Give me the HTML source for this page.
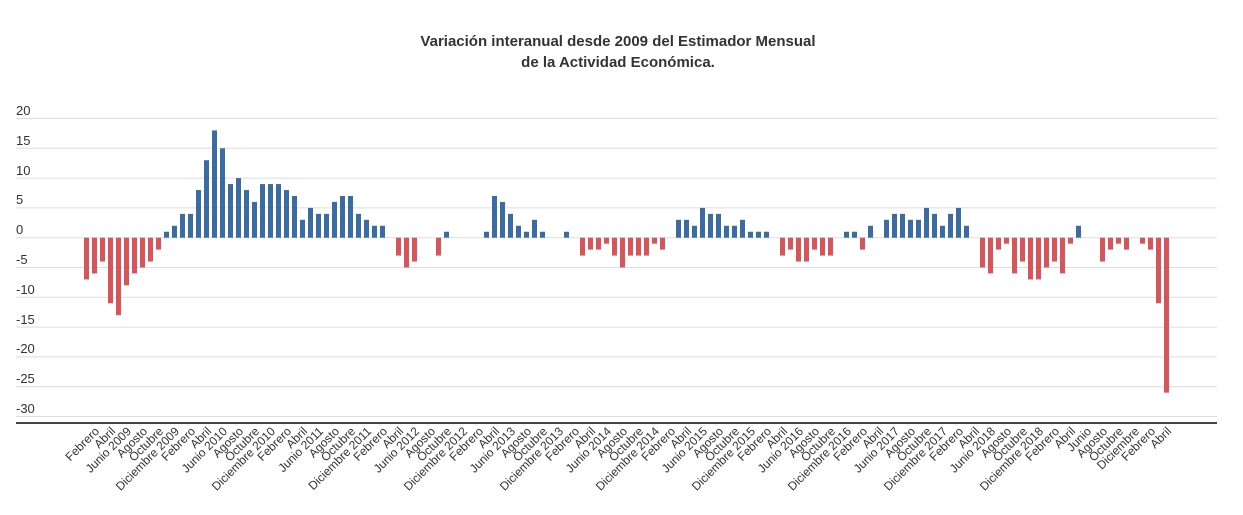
<!DOCTYPE html>
<html><head><meta charset="utf-8"><style>
body{margin:0;background:#fff;}
svg{display:block;font-family:"Liberation Sans",sans-serif;}
.t{font-size:15px;fill:#333;font-weight:bold;}
.y{font-size:13px;fill:#333;}
.x{font-size:12px;fill:#333;}
</style></head><body>
<svg id="s" width="1243" height="515" xmlns="http://www.w3.org/2000/svg">
<text class="t" x="618" y="46" text-anchor="middle">Variación interanual desde 2009 del Estimador Mensual</text>
<text class="t" x="618" y="67" text-anchor="middle">de la Actividad Económica.</text>
<g id="grid" stroke="#ddd" stroke-width="1"></g>
<g class="y">
<text x="16" y="115">20</text><text x="16" y="145">15</text><text x="16" y="175">10</text>
<text x="16" y="204">5</text><text x="16" y="234">0</text><text x="16" y="264">-5</text>
<text x="16" y="294">-10</text><text x="16" y="324">-15</text><text x="16" y="353">-20</text>
<text x="16" y="383">-25</text><text x="16" y="413">-30</text>
</g>
<g id="bars"></g>
<line x1="16" x2="1217" y1="423" y2="423" stroke="#444" stroke-width="2"/>
<g class="x" id="labels" text-anchor="end">
<text>Febrero</text><text>Abril</text><text>Junio 2009</text><text>Agosto</text><text>Octubre</text><text>Diciembre 2009</text>
<text>Febrero</text><text>Abril</text><text>Junio 2010</text><text>Agosto</text><text>Octubre</text><text>Diciembre 2010</text>
<text>Febrero</text><text>Abril</text><text>Junio 2011</text><text>Agosto</text><text>Octubre</text><text>Diciembre 2011</text>
<text>Febrero</text><text>Abril</text><text>Junio 2012</text><text>Agosto</text><text>Octubre</text><text>Diciembre 2012</text>
<text>Febrero</text><text>Abril</text><text>Junio 2013</text><text>Agosto</text><text>Octubre</text><text>Diciembre 2013</text>
<text>Febrero</text><text>Abril</text><text>Junio 2014</text><text>Agosto</text><text>Octubre</text><text>Diciembre 2014</text>
<text>Febrero</text><text>Abril</text><text>Junio 2015</text><text>Agosto</text><text>Octubre</text><text>Diciembre 2015</text>
<text>Febrero</text><text>Abril</text><text>Junio 2016</text><text>Agosto</text><text>Octubre</text><text>Diciembre 2016</text>
<text>Febrero</text><text>Abril</text><text>Junio 2017</text><text>Agosto</text><text>Octubre</text><text>Diciembre 2017</text>
<text>Febrero</text><text>Abril</text><text>Junio 2018</text><text>Agosto</text><text>Octubre</text><text>Diciembre 2018</text>
<text>Febrero</text><text>Abril</text><text>Junio</text><text>Agosto</text><text>Octubre</text><text>Diciembre</text>
<text>Febrero</text><text>Abril</text>
</g>
</svg>
<script>
var NS="http://www.w3.org/2000/svg";
var v=[-7,-6,-4,-11,-13,-8,-6,-5,-4,-2,1,2,4,4,8,13,18,15,9,10,8,6,9,9,9,8,7,3,5,4,4,6,7,7,4,3,2,2,0,-3,-5,-4,
0,0,-3,1,0,0,0,0,1,7,6,4,2,1,3,1,0,0,1,0,-3,-2,-2,-1,-3,-5,-3,-3,-3,-1,-2,0,3,3,2,5,4,4,2,2,3,1,1,1,0,-3,-2,-4,-4,-2,
-3,-3,0,1,1,-2,2,0,3,4,4,3,3,5,4,2,4,5,2,0,-5,-6,-2,-1,-6,-4,-7,-7,-5,-4,-6,-1,2,0,0,-4,-2,-1,-2,0,-1,-2,-11,-26];
var z=237.7,u=5.96;
var g=document.getElementById("grid");
for(var k=20;k>=-30;k-=5){var l=document.createElementNS(NS,"line");var y=z-k*u;
l.setAttribute("x1",16);l.setAttribute("x2",1217);l.setAttribute("y1",y);l.setAttribute("y2",y);g.appendChild(l);}
var b=document.getElementById("bars");
v.forEach(function(d,i){if(!d)return;var r=document.createElementNS(NS,"rect");
var x=84+8*i;r.setAttribute("x",x);r.setAttribute("width",5);
if(d>0){r.setAttribute("y",z-d*u);r.setAttribute("height",d*u);r.setAttribute("fill","#3a6ca3");}
else{r.setAttribute("y",z);r.setAttribute("height",-d*u);r.setAttribute("fill","#d6555a");}
b.appendChild(r);});
var ts=document.querySelectorAll("#labels text");
ts.forEach(function(t,j){var i=2*j+1;var x=92+8*i,y=432;
t.setAttribute("transform","translate("+x+","+y+") rotate(-45)");});
</script>
</body></html>
